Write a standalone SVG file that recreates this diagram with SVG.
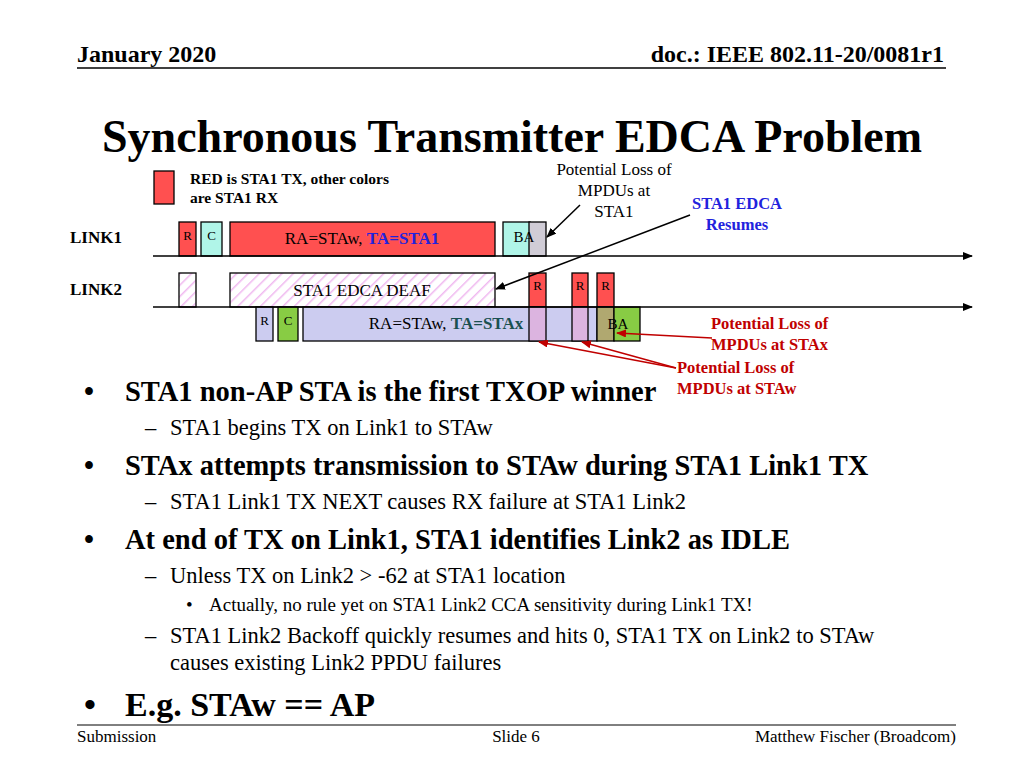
<svg xmlns="http://www.w3.org/2000/svg" width="1024" height="768" viewBox="0 0 1024 768">
<defs>
<style>
text{font-family:"Liberation Serif","Times New Roman",serif;fill:#000}
.b{font-weight:bold}
.bx{stroke:#000;stroke-width:1.3}
.ar{stroke:#000;stroke-width:1.5;fill:none;marker-end:url(#ka)}
.rr{stroke:#c00000;stroke-width:1.5;fill:none;marker-end:url(#ra)}
</style>
<marker id="ka" markerWidth="10" markerHeight="8" refX="9" refY="4" orient="auto" markerUnits="userSpaceOnUse"><path d="M0,0L10,4L0,8z" fill="#000"/></marker>
<marker id="ra" markerWidth="10" markerHeight="8" refX="9" refY="4" orient="auto" markerUnits="userSpaceOnUse"><path d="M0,0L10,4L0,8z" fill="#c00000"/></marker>
<pattern id="hat" width="8" height="8" patternUnits="userSpaceOnUse" patternTransform="rotate(45)"><rect width="8" height="8" fill="#fff"/><line x1="0" y1="0" x2="0" y2="8" stroke="#f0b8f0" stroke-width="3"/></pattern>
</defs>
<rect width="1024" height="768" fill="#fff"/>
<text x="77" y="62" font-size="24" class="b">January 2020</text>
<text x="944" y="62" font-size="24" class="b" text-anchor="end">doc.: IEEE 802.11-20/0081r1</text>
<line x1="77" y1="68" x2="946" y2="68" stroke="#000" stroke-width="1.5"/>
<text x="512" y="152" font-size="46" class="b" text-anchor="middle">Synchronous Transmitter EDCA Problem</text>

<g id="legend"><rect x="154" y="171" width="20" height="33" fill="#ff5050" class="bx"/>
<text x="190" y="184" font-size="15.5" class="b">RED is STA1 TX, other colors</text>
<text x="190" y="203" font-size="15.5" class="b">are STA1 RX</text></g>

<text x="70" y="243" font-size="17" class="b">LINK1</text>
<text x="70" y="295" font-size="17" class="b">LINK2</text>

<g id="link1">
<rect x="179" y="222" width="17" height="34" fill="#ff5050" class="bx"/><text x="187.5" y="240" font-size="13" text-anchor="middle">R</text>
<rect x="201" y="222" width="21" height="34" fill="#b0f5e8" class="bx"/><text x="211.5" y="240" font-size="13" text-anchor="middle">C</text>
<rect x="230" y="222" width="265" height="34" fill="#ff5050" class="bx"/><text x="362" y="244" font-size="17" text-anchor="middle">RA=STAw, <tspan style="fill:#2222dd" font-weight="bold">TA=STA1</tspan></text>
<rect x="503" y="222" width="27" height="34" fill="#b0f5e8" class="bx"/>
<rect x="529" y="222" width="17" height="34" fill="#d0ccd6" class="bx"/>
<text x="524" y="242" font-size="15" text-anchor="middle">BA</text>
</g>
<g id="link2">
<rect x="179" y="273" width="17" height="34" fill="url(#hat)" class="bx"/>
<rect x="230" y="273" width="265" height="34" fill="url(#hat)" class="bx"/><text x="362" y="296" font-size="17" text-anchor="middle">STA1 EDCA DEAF</text>
<rect x="529" y="273" width="17" height="34" fill="#ff5050" class="bx"/><text x="537.5" y="290" font-size="13" text-anchor="middle">R</text>
<rect x="572" y="273" width="16" height="34" fill="#ff5050" class="bx"/><text x="580" y="290" font-size="13" text-anchor="middle">R</text>
<rect x="597" y="273" width="17" height="34" fill="#ff5050" class="bx"/><text x="605.5" y="290" font-size="13" text-anchor="middle">R</text>
</g>
<g id="stax">
<rect x="256" y="307" width="17" height="34" fill="#ccccf0" class="bx"/><text x="264.5" y="325" font-size="13" text-anchor="middle">R</text>
<rect x="278" y="307" width="20" height="34" fill="#88cc44" class="bx"/><text x="288" y="325" font-size="13" text-anchor="middle">C</text>
<rect x="303" y="307" width="294" height="34" fill="#ccccf0" class="bx"/><text x="446" y="329" font-size="17" text-anchor="middle">RA=STAw, <tspan style="fill:#1a5050" font-weight="bold">TA=STAx</tspan></text>
<rect x="529" y="307" width="17" height="34" fill="#dcb4e0" class="bx"/>
<rect x="572" y="307" width="16" height="34" fill="#dcb4e0" class="bx"/>
<rect x="597" y="307" width="17" height="34" fill="#b0a870" class="bx"/>
<rect x="614" y="307" width="26" height="34" fill="#88cc44" class="bx"/>
<text x="618" y="329" font-size="15" text-anchor="middle">BA</text>
</g>
<g id="connectors">
<line x1="153" y1="256" x2="972" y2="256" class="ar"/>
<line x1="153" y1="307" x2="972" y2="307" class="ar"/>
<line x1="580" y1="205" x2="547" y2="237" class="ar"/>
<line x1="690" y1="215" x2="496" y2="289" class="ar"/>
<line x1="712" y1="338" x2="617" y2="333" class="rr"/>
<line x1="676" y1="368" x2="539" y2="342" class="rr"/>
<line x1="676" y1="368" x2="582" y2="342" class="rr"/>
</g>
<text x="614" y="175" font-size="17" text-anchor="middle">Potential Loss of</text>
<text x="614" y="196" font-size="17" text-anchor="middle">MPDUs at</text>
<text x="614" y="217" font-size="17" text-anchor="middle">STA1</text>
<text x="737" y="209" font-size="16.5" class="b" text-anchor="middle" style="fill:#2222dd">STA1 EDCA</text>
<text x="737" y="230" font-size="16.5" class="b" text-anchor="middle" style="fill:#2222dd">Resumes</text>
<text x="711" y="329" font-size="16.5" class="b" style="fill:#c00000">Potential Loss of</text>
<text x="711" y="350" font-size="16.5" class="b" style="fill:#c00000">MPDUs at STAx</text>
<text x="677" y="373" font-size="16.5" class="b" style="fill:#c00000">Potential Loss of</text>
<text x="677" y="394" font-size="16.5" class="b" style="fill:#c00000">MPDUs at STAw</text>

<g font-size="28.5">
<text x="84" y="401" class="b">•</text><text x="125" y="401" class="b">STA1 non-AP STA is the first TXOP winner</text>
<text x="145" y="435" font-size="22.5">–</text><text x="170" y="435" font-size="22.5">STA1 begins TX on Link1 to STAw</text>
<text x="84" y="475" class="b">•</text><text x="125" y="475" class="b">STAx attempts transmission to STAw during STA1 Link1 TX</text>
<text x="145" y="509" font-size="22.5">–</text><text x="170" y="509" font-size="22.5">STA1 Link1 TX NEXT causes RX failure at STA1 Link2</text>
<text x="84" y="549" class="b">•</text><text x="125" y="549" class="b">At end of TX on Link1, STA1 identifies Link2 as IDLE</text>
<text x="145" y="583" font-size="22.5">–</text><text x="170" y="583" font-size="22.5">Unless TX on Link2 &gt; -62 at STA1 location</text>
<text x="186" y="611" font-size="19">•</text><text x="209" y="611" font-size="19">Actually, no rule yet on STA1 Link2 CCA sensitivity during Link1 TX!</text>
<text x="145" y="643" font-size="22.5">–</text><text x="170" y="643" font-size="22.5">STA1 Link2 Backoff quickly resumes and hits 0, STA1 TX on Link2 to STAw</text>
<text x="170" y="670" font-size="22.5">causes existing Link2 PPDU failures</text>
<text x="84" y="716" font-size="34" class="b">•</text><text x="125" y="716" font-size="34" class="b">E.g. STAw == AP</text>
</g>
<line x1="77" y1="725" x2="956" y2="725" stroke="#000" stroke-width="1"/>
<text x="77" y="742" font-size="17">Submission</text>
<text x="516" y="742" font-size="17" text-anchor="middle">Slide 6</text>
<text x="956" y="742" font-size="17" text-anchor="end">Matthew Fischer (Broadcom)</text>
</svg>
